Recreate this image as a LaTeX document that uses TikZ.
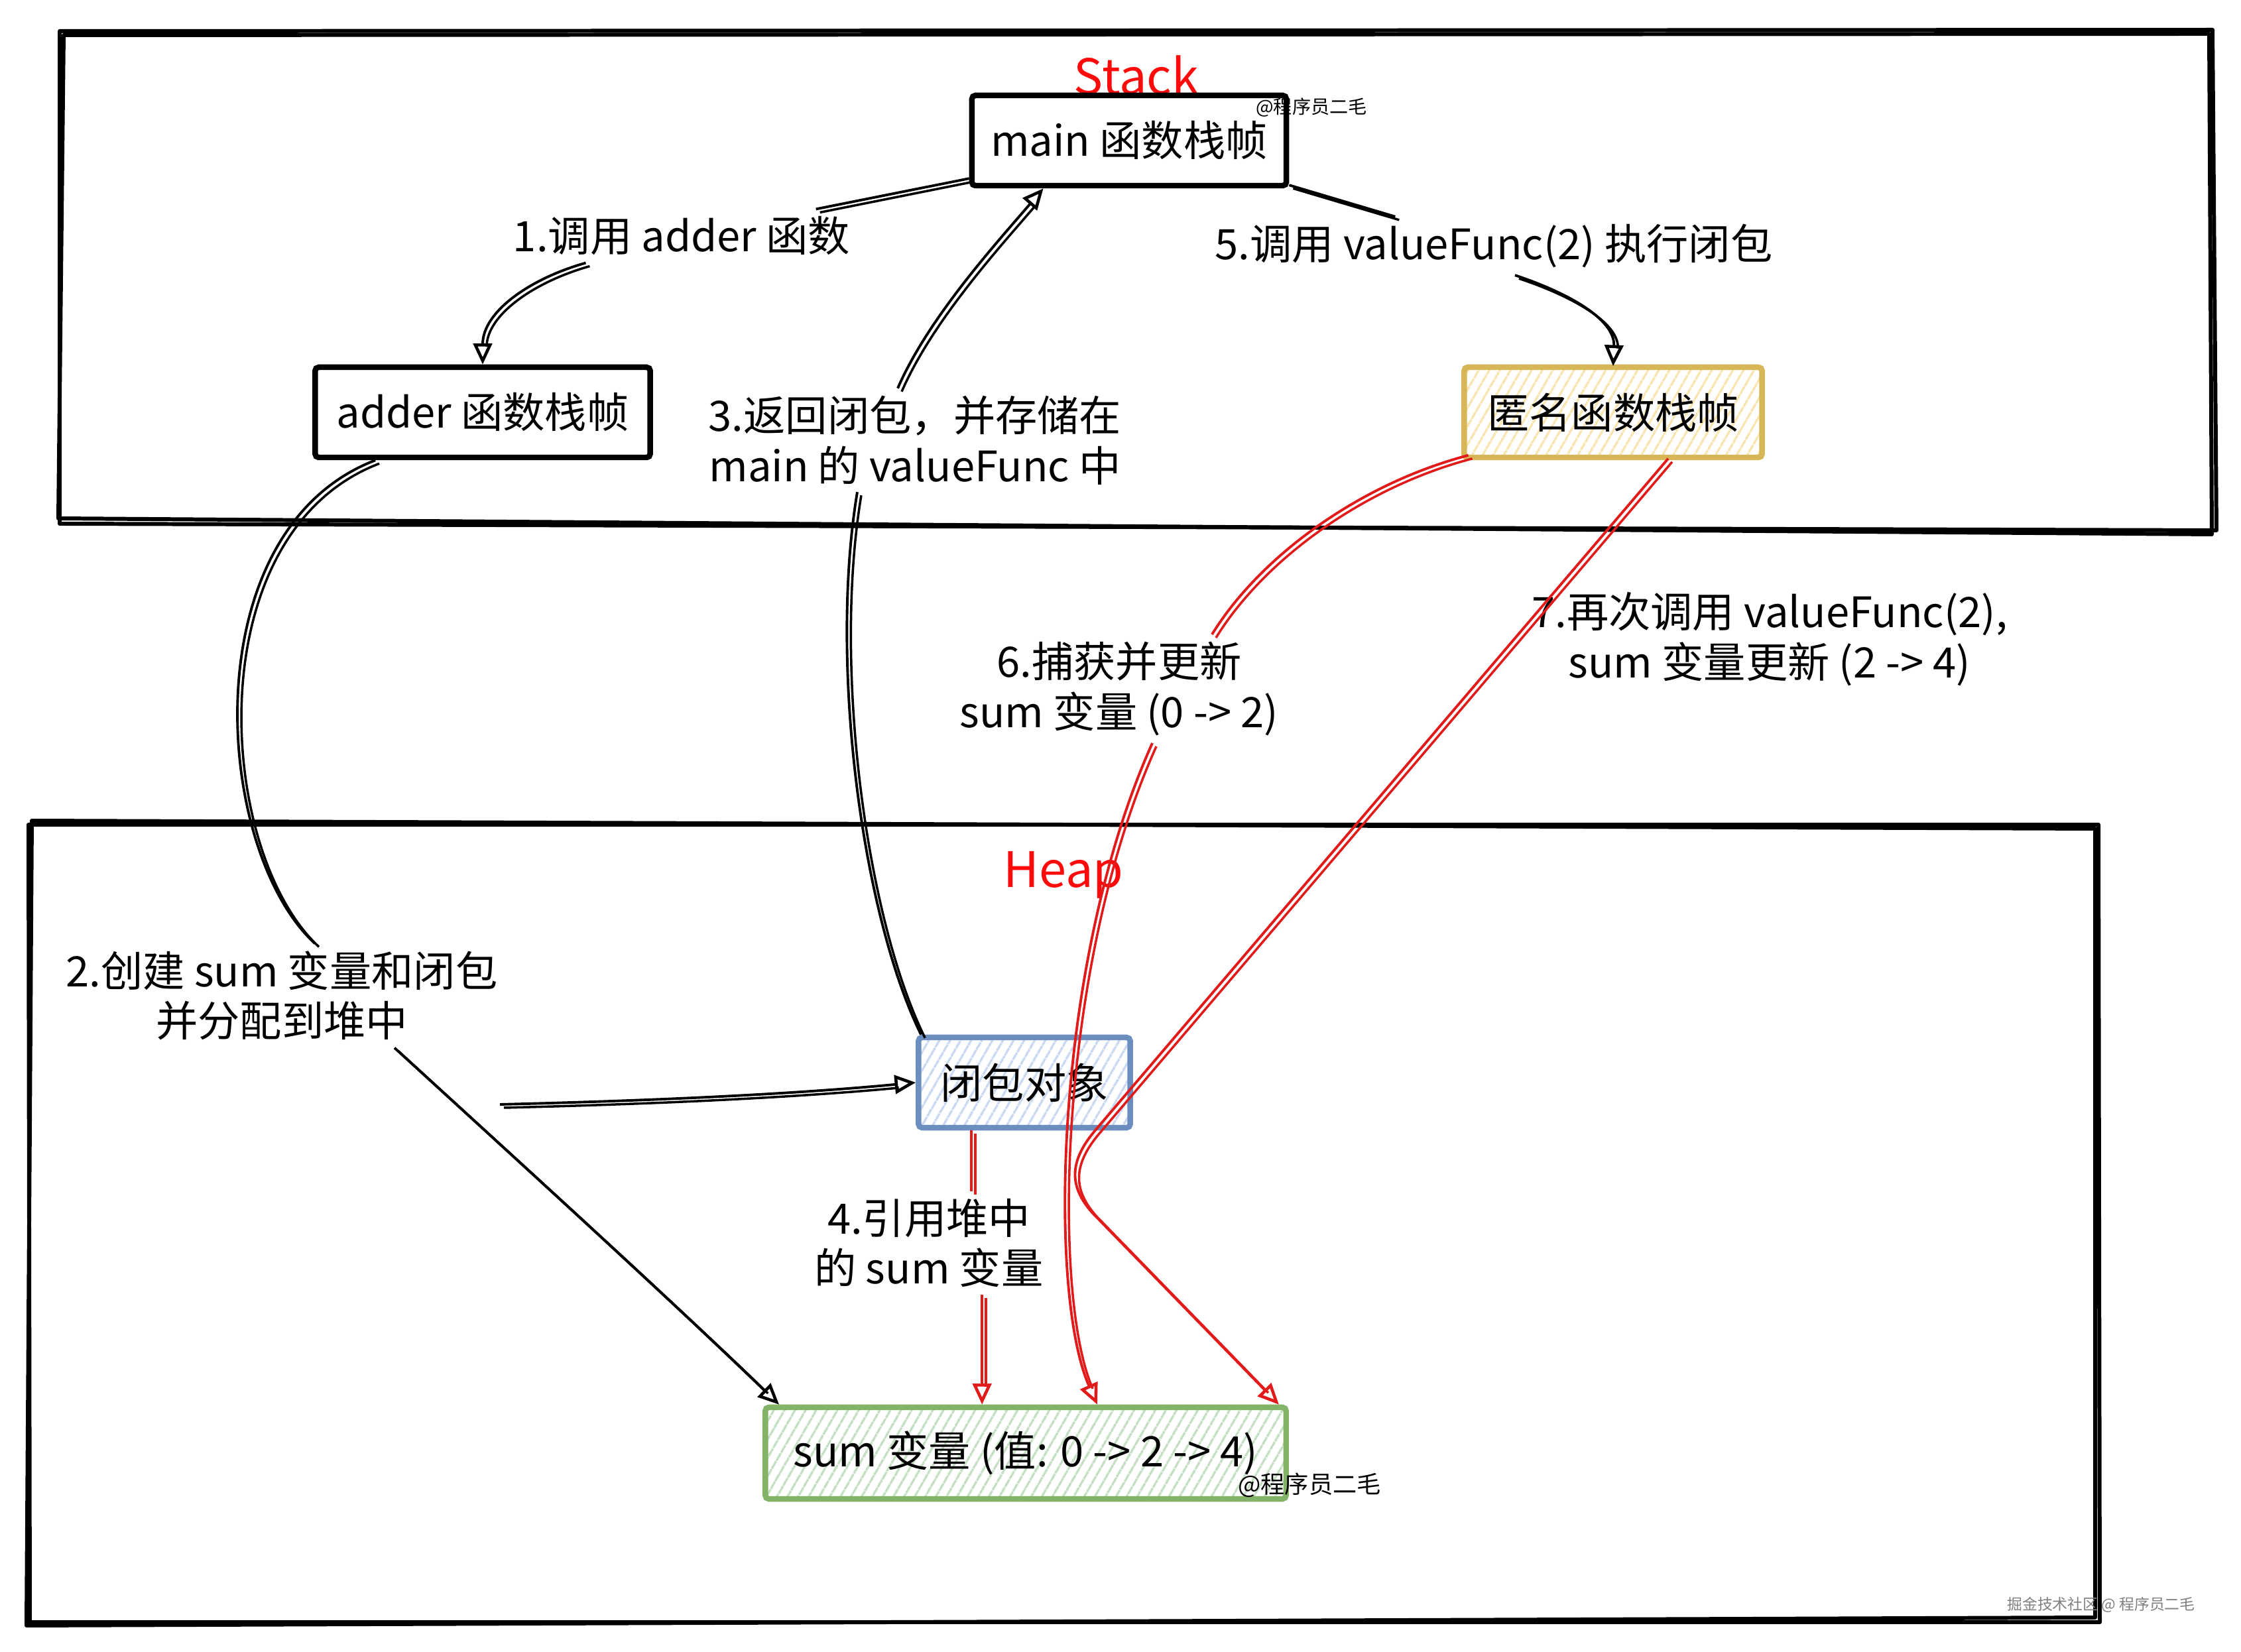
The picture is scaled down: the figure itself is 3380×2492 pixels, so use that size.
\documentclass[tikz,border=0pt]{standalone}
\usepackage{fontspec}
\setmainfont{Noto Sans CJK SC}
\usetikzlibrary{arrows.meta,patterns.meta,calc}
\definecolor{redln}{HTML}{E31A1A}
\definecolor{redtx}{HTML}{FF0A0A}
\definecolor{grnb}{HTML}{82B366}
\definecolor{grnh}{HTML}{C3DFC1}
\definecolor{blub}{HTML}{6C8EBF}
\definecolor{bluh}{HTML}{C8D8F2}
\definecolor{yelb}{HTML}{D6B656}
\definecolor{yelh}{HTML}{F9E4AE}
\begin{document}
\begin{tikzpicture}[x=0.01cm,y=-0.01cm,
  frame/.style={draw=black,line width=1.7pt,line join=round},
  box/.style={draw=black,line width=2.4pt,rounded corners=1.5pt,inner sep=0pt,minimum height=1.36cm,font=\fontsize{18}{21.5}\selectfont},
  hatch/.style={preaction={fill=white},pattern={Lines[angle=60,distance=4pt,line width=1pt]},pattern color=#1},
  lab/.style={fill=white,inner sep=3pt,align=center,font=\fontsize{18}{21.5}\selectfont},
  tip/.style={-{Triangle[open,length=9pt,width=8pt,line width=1.3pt]}},
  plain/.style={line width=1.1pt,draw=black,preaction={draw=black,-,line width=1pt,transform canvas={shift={(6,5)}}}},
  arr/.style={line width=1.1pt,draw=black,tip,preaction={draw=black,-,shorten >=9pt,line width=1pt,transform canvas={shift={(6,5)}}}},
  rplain/.style={line width=1.1pt,draw=redln,preaction={draw=redln,-,line width=1pt,transform canvas={shift={(6,5)}}}},
  rarr/.style={line width=1.1pt,draw=redln,tip,preaction={draw=redln,-,shorten >=9pt,line width=1pt,transform canvas={shift={(6,5)}}}},
  title/.style={text=redtx,font=\fontsize{21}{24}\selectfont},
  wm/.style={font=\fontsize{#1}{#1}\selectfont,inner sep=0pt}
]
\useasboundingbox[fill=white] (0,0) rectangle (3380,2492);

% frames (sketch: two strokes)
\draw[frame] (90,47) -- (3337,45) -- (3343,800) -- (90,790) -- cycle;
\draw[frame] (96,53) -- (3332,51) -- (3336,806) -- (88,782) -- cycle;
\draw[frame] (43,1244) -- (3165,1244) -- (3167,2447) -- (45,2447) -- cycle;
\draw[frame] (48,1238) -- (3160,1250) -- (3160,2440) -- (40,2452) -- cycle;

% titles
\node[title] (stacklbl) at (1714,114) {Stack};
\node[title] (heaplbl) at (1604,1320) {Heap};

% nodes
\node[box,fill=white,minimum width=4.74cm] (main) at (1703,212) {main 函数栈帧};
\node[box,fill=white,minimum width=5.05cm] (adder) at (728,622) {adder 函数栈帧};
\node[box,draw=yelb,hatch=yelh,minimum width=4.49cm] (anon) at (2433,622) {匿名函数栈帧};
\node[box,draw=blub,hatch=bluh,minimum width=3.19cm] (closure) at (1545,1633) {闭包对象};
\node[box,draw=grnb,hatch=grnh,minimum width=7.85cm,minimum height=1.38cm] (sum) at (1547,2192) {sum 变量 (值: 0 -> 2 -> 4)};

% watermarks
\node[wm=8] (wm1) at (1978,162) {@程序员二毛};
\node[wm=10.3] (wm2) at (1975,2240) {@程序员二毛};
\node[wm=6.5,text=gray] (wm3) at (3169,2421) {掘金技术社区 @ 程序员二毛};

% labels
\node[lab] (lab1) at (1028,356) {1.调用 adder 函数};
\node[lab] (lab5) at (2253,371) {5.调用 valueFunc(2) 执行闭包};
\node[lab] (lab3) at (1380,664) {3.返回闭包，并存储在\\main 的 valueFunc 中};
\node[lab] (lab2) at (425,1502) {2.创建 sum 变量和闭包\\并分配到堆中};
\node[lab] (lab4) at (1401,1875) {4.引用堆中\\的 sum 变量};
\node[lab] (lab6) at (1688,1039) {6.捕获并更新\\sum 变量 (0 -> 2)};
\node[lab,fill=none] (lab7) at (2669,964) {7.再次调用 valueFunc(2),\\sum 变量更新 (2 -> 4)};

% edge 1
\draw[plain] ($(main.south west)+(0,-15)$) -- (lab1);
\draw[arr] (lab1) .. controls (800,420) and (728,470) .. (adder.north);
% edge 2
\draw[plain] ($(adder.south west)+(95,0)$) .. controls (290,800) and (320,1280) .. ($(lab2.north)+(50,0)$);
\draw[arr] ($(lab2.south)+(170,0)$) .. controls (780,1750) and (1000,1950) .. ($(sum.north west)+(25,0)$);
\coordinate (c2s) at (754,1666);
\draw[arr] (c2s) .. controls (1000,1660) and (1200,1650) .. (closure.west);
% edge 3
\draw[plain] ($(closure.north west)+(8,0)$) .. controls (1300,1380) and (1250,1000) .. ($(lab3.south)+(-87,0)$);
\draw[arr] ($(lab3.north)+(-26,0)$) .. controls (1400,480) and (1500,370) .. ($(main.south west)+(112,0)$);
% edge 5
\draw[plain] ($(main.south east)+(0,-5)$) -- (lab5);
\draw[arr] ($(lab5.south)+(32,0)$) .. controls (2360,440) and (2436,480) .. (anon.north);
% edge 4
\coordinate (c4a) at ($(closure.south west)+(84,0)$);
\draw[rplain] (c4a) -- (c4a |- lab4.north);
\coordinate (c4b) at ($(closure.south west)+(100,0)$);
\draw[rarr] (c4b |- lab4.south) -- (c4b |- sum.north);
% edge 6
\draw[rplain] ($(anon.south west)+(8,-5)$) .. controls (2050,730) and (1900,840) .. ($(lab6.north)+(140,0)$);
\draw[rarr] ($(lab6.south)+(50,0)$) .. controls (1590,1450) and (1580,1950) .. ($(sum.north)+(108,0)$);
% edge 7
\coordinate (c7a) at (1652,1705);
\coordinate (c7b) at (1648,1830);
\draw[rarr] ($(anon.south)+(83,0)$) -- (c7a) .. controls (1612,1752) and (1612,1790) .. (c7b) -- ($(sum.north east)+(-15,0)$);
\end{tikzpicture}
\end{document}
